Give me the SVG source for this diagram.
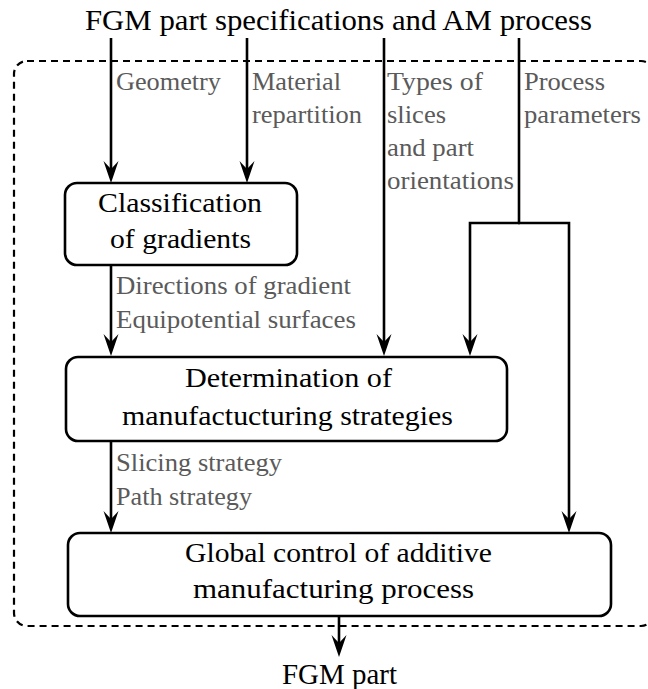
<svg xmlns="http://www.w3.org/2000/svg" width="648" height="689" viewBox="0 0 648 689">
<style>
.box{fill:#fff;stroke:#000;stroke-width:2.6}
text{font-family:'Liberation Serif','DejaVu Serif','Noto Serif',Tinos,serif}
.t{fill:#000;font-size:28px}
.g{fill:#5a5a5a;font-size:25px}
.c{fill:none;stroke:#000;stroke-width:2.6}
.frame{fill:none;stroke:#000;stroke-width:2.2;stroke-dasharray:7 5}
</style>
<defs>
<marker id="ah" markerUnits="userSpaceOnUse" viewBox="-23 -8 24 16" markerWidth="24" markerHeight="16" refX="-10" refY="0" orient="auto">
<path d="M0,0 L-22,-7.5 L-14,0 L-22,7.5 Z" fill="#000"/>
</marker>
</defs>
<rect class="frame" x="14" y="61" width="640" height="565" rx="13"/>
<g id="connectors">
<path class="c" d="M111,38 V173" marker-end="url(#ah)"/>
<path class="c" d="M247,38 V173" marker-end="url(#ah)"/>
<path class="c" d="M384,38 V346" marker-end="url(#ah)"/>
<path class="c" d="M519,38 V223"/>
<path class="c" d="M520,223 H470 V346" marker-end="url(#ah)"/>
<path class="c" d="M518,223 H569 V523" marker-end="url(#ah)"/>
<path class="c" d="M111,265 V346" marker-end="url(#ah)"/>
<path class="c" d="M111,441 V523" marker-end="url(#ah)"/>
<path class="c" d="M339,616 V647" marker-end="url(#ah)"/>
</g>
<g id="labels">
<text class="g" x="116" y="90" textLength="105" lengthAdjust="spacingAndGlyphs">Geometry</text>
<text class="g" x="252" y="90" textLength="89" lengthAdjust="spacingAndGlyphs">Material</text>
<text class="g" x="252" y="123" textLength="110" lengthAdjust="spacingAndGlyphs">repartition</text>
<text class="g" x="387" y="90" textLength="96" lengthAdjust="spacingAndGlyphs">Types of</text>
<text class="g" x="387" y="123" textLength="59" lengthAdjust="spacingAndGlyphs">slices</text>
<text class="g" x="387" y="156" textLength="87" lengthAdjust="spacingAndGlyphs">and part</text>
<text class="g" x="387" y="189" textLength="127" lengthAdjust="spacingAndGlyphs">orientations</text>
<text class="g" x="524" y="90" textLength="81" lengthAdjust="spacingAndGlyphs">Process</text>
<text class="g" x="524" y="123" textLength="117" lengthAdjust="spacingAndGlyphs">parameters</text>
<text class="g" x="116" y="294" textLength="235" lengthAdjust="spacingAndGlyphs">Directions of gradient</text>
<text class="g" x="116" y="328" textLength="240" lengthAdjust="spacingAndGlyphs">Equipotential surfaces</text>
<text class="g" x="116" y="471" textLength="166" lengthAdjust="spacingAndGlyphs">Slicing strategy</text>
<text class="g" x="116" y="505" textLength="136" lengthAdjust="spacingAndGlyphs">Path strategy</text>
</g>
<g id="input">
<text class="t" x="85" y="30" style="font-size:29px" textLength="507" lengthAdjust="spacingAndGlyphs">FGM part specifications and AM process</text>
</g>
<g id="classification">
<rect class="box" x="65" y="183" width="232" height="82" rx="12"/>
<text class="t" x="98" y="212" textLength="164" lengthAdjust="spacingAndGlyphs">Classification</text>
<text class="t" x="110" y="248" textLength="141" lengthAdjust="spacingAndGlyphs">of gradients</text>
</g>
<g id="determination">
<rect class="box" x="66" y="357" width="441" height="84" rx="12"/>
<text class="t" x="185" y="387" textLength="207" lengthAdjust="spacingAndGlyphs">Determination of</text>
<text class="t" x="122" y="425" textLength="331" lengthAdjust="spacingAndGlyphs">manufactucturing strategies</text>
</g>
<g id="global">
<rect class="box" x="68" y="533" width="543" height="83" rx="12"/>
<text class="t" x="185" y="562" textLength="307" lengthAdjust="spacingAndGlyphs">Global control of additive</text>
<text class="t" x="193" y="598" textLength="281" lengthAdjust="spacingAndGlyphs">manufacturing process</text>
</g>
<g id="output">
<text class="t" x="282" y="684" style="font-size:29px" textLength="115" lengthAdjust="spacingAndGlyphs">FGM part</text>
</g>
</svg>
